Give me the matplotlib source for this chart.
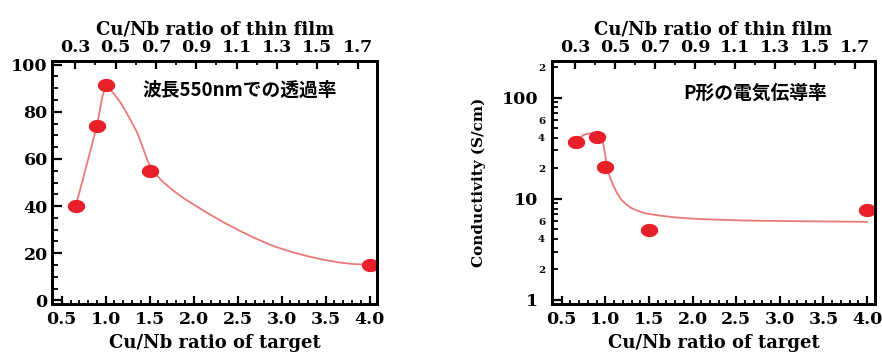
import numpy as np
import matplotlib
matplotlib.use("Agg")
import matplotlib.pyplot as plt
from matplotlib.path import Path
from matplotlib.ticker import MultipleLocator, LogLocator, FuncFormatter

plt.rcParams['font.family'] = ['DejaVu Serif']
plt.rcParams['font.weight'] = 'bold'

# ---- data ----
target_ratio = [0.66, 0.9, 1.0, 1.5, 4.0]
transmittance = [40, 74, 91.5, 55, 15]
conductivity = [36, 40.4, 20.8, 4.9, 7.8]

trans_curve_x = [0.66, 0.78, 0.90, 0.96, 1.0, 1.05, 1.11, 1.17, 1.23, 1.28, 1.36,
                 1.43, 1.47, 1.51, 1.57, 1.65, 1.77, 1.90, 2.15, 2.34, 2.53, 2.72,
                 2.91, 3.10, 3.29, 3.48, 3.67, 3.82, 3.97]
trans_curve_y = [40, 57, 74, 86, 91.5, 89.5, 86.8, 83.8, 80.0, 76.7, 71.0,
                 64.0, 59.8, 56.5, 53.4, 50.3, 46.5, 43.0, 37.2, 33.1, 29.4, 26.0,
                 23.0, 20.7, 18.8, 17.2, 16.0, 15.4, 15.2]

cond_curve_x = [0.67, 0.72, 0.765, 0.82, 0.88, 0.92, 0.947, 0.965, 0.986, 1.005,
                1.023, 1.05, 1.088, 1.13, 1.183, 1.24, 1.296, 1.37, 1.448, 1.6,
                1.789, 2.0, 2.169, 2.548, 2.927, 3.306, 3.685, 4.0]
cond_curve_y = [37.2, 41.0, 43.2, 44.3, 44.2, 43.5, 41.9, 37.5, 31.5, 25.0,
                20.0, 16.5, 13.7, 11.5, 9.8, 8.8, 8.1, 7.6, 7.2, 6.85,
                6.55, 6.35, 6.25, 6.1, 6.03, 5.98, 5.94, 5.9]

bottom_ticks = [0.5, 1.0, 1.5, 2.0, 2.5, 3.0, 3.5, 4.0]
top_ticks = [0.3, 0.5, 0.7, 0.9, 1.1, 1.3, 1.5, 1.7]

label_target = "Cu/Nb ratio of target"
label_film = "Cu/Nb ratio of thin film"
label_cond = "Conductivity (S/cm)"
note_trans = "波長550nmでの透過率"
note_cond = "P形の電気伝導率"

RED = "#e8202a"
CURVE = "#ea7a78"
cjk = ['Noto Sans CJK JP', 'DejaVu Sans']
TICK_FS = 12.5
LABEL_FS = 13

t = np.linspace(0, 2 * np.pi, 48)
ellipse = Path(np.column_stack([1.35 * np.cos(t), np.sin(t)]), closed=True)

fig = plt.figure(figsize=(8.82, 3.53), dpi=100)
axL = fig.add_axes([0.059, 0.139, 0.369, 0.688])
axR = fig.add_axes([0.626, 0.139, 0.366, 0.688])


def style_common(ax):
    for s in ax.spines.values():
        s.set_linewidth(2)
    ax.set_xlim(0.39, 4.09)
    ax.xaxis.set_major_locator(plt.FixedLocator(bottom_ticks))
    ax.xaxis.set_minor_locator(MultipleLocator(0.1))
    ax.set_xticklabels([f"{v:.1f}" for v in bottom_ticks])
    ax.tick_params(axis='x', which='major', direction='in', length=6, width=1.6,
                   labelsize=TICK_FS, pad=5, top=False)
    ax.tick_params(axis='x', which='minor', direction='in', length=3, width=1.3, top=False)
    ax.set_xlabel(label_target, fontsize=LABEL_FS, fontweight='bold', labelpad=4.5)
    ax2 = ax.twiny()
    ax2.set_xlim(0.185, 1.798)
    ax2.xaxis.set_major_locator(plt.FixedLocator(top_ticks))
    ax2.xaxis.set_minor_locator(plt.FixedLocator([0.4, 0.6, 0.8, 1.0, 1.2, 1.4, 1.6]))
    ax2.set_xticklabels([f"{v:.1f}" for v in top_ticks])
    ax2.tick_params(axis='x', which='major', direction='in', length=6, width=1.6,
                    labelsize=TICK_FS, pad=4)
    ax2.tick_params(axis='x', which='minor', direction='in', length=3, width=1.3)
    ax2.set_xlabel(label_film, fontsize=LABEL_FS, fontweight='bold', labelpad=3)
    for s in ax2.spines.values():
        s.set_linewidth(2)
    return ax2


# ---- left panel ----
style_common(axL)
axL.plot(trans_curve_x, trans_curve_y, color=CURVE, lw=1.3, zorder=2)
axL.plot(target_ratio, transmittance, ls='none', marker=ellipse, ms=11.5,
         color=RED, mec=RED, zorder=3)
axL.set_ylim(-1.5, 101.5)
axL.yaxis.set_major_locator(MultipleLocator(20))
axL.yaxis.set_minor_locator(MultipleLocator(5))
axL.tick_params(axis='y', which='major', direction='in', length=7, width=1.6,
                labelsize=TICK_FS, pad=3, right=False)
axL.tick_params(axis='y', which='minor', direction='in', length=4, width=1.3, right=False)
axL.text(1.42, 89, note_trans, family=cjk, fontweight='bold', fontsize=13.5,
         ha='left', va='center')

# ---- right panel ----
style_common(axR)
axR.set_yscale('log')
axR.set_ylim(0.91, 230)
axR.plot(cond_curve_x, cond_curve_y, color=CURVE, lw=1.3, zorder=2)
axR.plot(target_ratio, conductivity, ls='none', marker=ellipse, ms=11.5,
         color=RED, mec=RED, zorder=3)
axR.yaxis.set_major_locator(LogLocator(base=10, subs=[1.0]))
axR.yaxis.set_major_formatter(FuncFormatter(lambda v, p: f"{v:g}"))
axR.yaxis.set_minor_locator(LogLocator(base=10, subs=np.arange(2, 10), numticks=20))


def minor_fmt(v, p):
    m = round(v / 10 ** np.floor(np.log10(v) + 1e-9))
    return str(int(m)) if m in (2, 4, 6) else ""


axR.yaxis.set_minor_formatter(FuncFormatter(minor_fmt))
axR.tick_params(axis='y', which='major', direction='in', length=7, width=1.6,
                labelsize=TICK_FS, pad=10, right=False)
axR.tick_params(axis='y', which='minor', direction='in', length=4, width=1.3,
                labelsize=7.5, pad=5, right=False)
axR.set_ylabel(label_cond, fontsize=11, fontweight='bold')
axR.yaxis.set_label_coords(-0.204, 0.50)
axR.text(1.89, 111, note_cond, family=cjk, fontweight='bold', fontsize=13.5,
         ha='left', va='center')

fig.savefig("out.png", dpi=100)
